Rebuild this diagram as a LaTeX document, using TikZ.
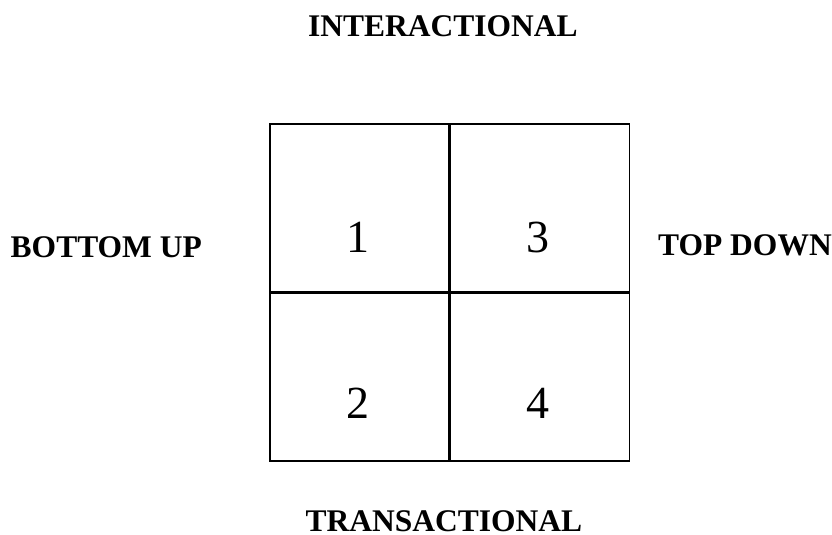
\documentclass[tikz,border=0pt]{standalone}
\usepackage{fontspec}
\setmainfont{Liberation Serif}
\usetikzlibrary{positioning}

\begin{document}
\begin{tikzpicture}[
                x=1pt, y=-1pt,
                cell/.style={rectangle, draw=black, line width=1.6pt, minimum width=179pt, minimum height=167.5pt, inner sep=0pt},
                digit/.style={font=\fontsize{46}{52}\selectfont, anchor=base, inner sep=0pt},
                side/.style={font=\fontsize{31.5}{36}\selectfont\bfseries, inner sep=0pt}
            ]
                \useasboundingbox (0,0) rectangle (832,535);
                % grid of four quadrants
                \node[cell] (cell1) at (359.5,208) {};
                \node[cell, right=0pt of cell1] (cell3) {};
                \node[cell, below=0pt of cell1] (cell2) {};
                \node[cell, below=0pt of cell3] (cell4) {};

                \node[digit] (n1) at (358,252) {1};
                \node[digit] (n3) at (538,252) {3};
                \node[digit] (n2) at (358,418) {2};
                \node[digit] (n4) at (538,418) {4};

                % axis labels
                \node[side, anchor=base] (inter) at (443,37) {INTERACTIONAL};
                \node[side, anchor=base] (trans) at (444,531) {TRANSACTIONAL};
                \node[side, anchor=base east] (bottomup) at (202,257) {BOTTOM UP};
                \node[side, anchor=base west] (topdown) at (658,255) {TOP DOWN};
            \end{tikzpicture}
\end{document}
